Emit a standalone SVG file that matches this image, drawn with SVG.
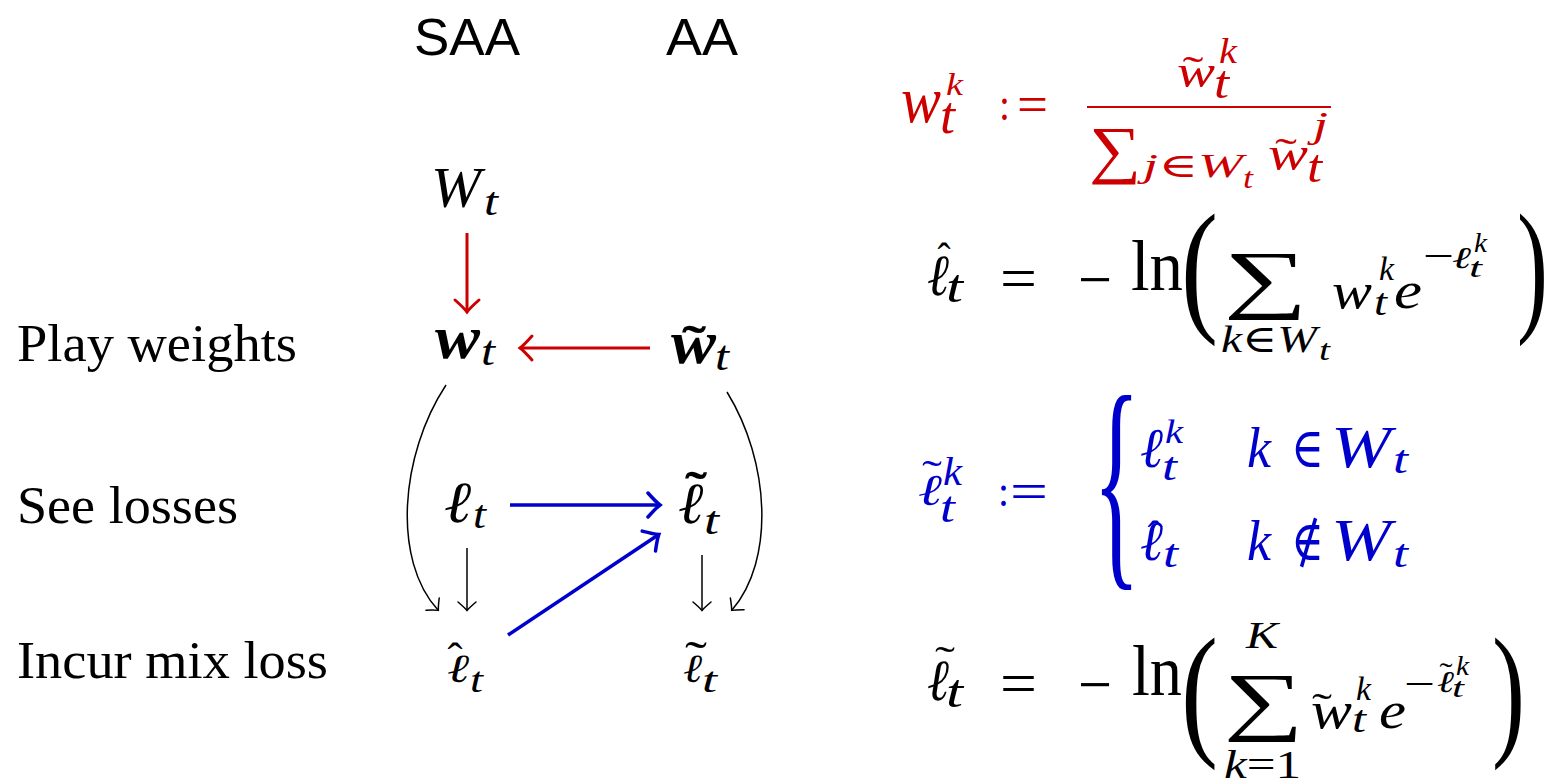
<svg xmlns="http://www.w3.org/2000/svg" width="1554" height="784" viewBox="0 0 1554 784">
<style>
.t{font-family:"Liberation Serif","DejaVu Serif",serif}
.i{font-style:italic}
.b{font-weight:bold}
.s{font-family:"Liberation Sans",Arial,sans-serif}
.r{fill:#CC0000}
.u{fill:#0000CC}
.k{fill:#000}
.m{text-anchor:middle}
</style>
<defs>
<marker id="hr" markerUnits="userSpaceOnUse" viewBox="-14 -14 18 28" markerWidth="18" markerHeight="28" refX="0" refY="0" orient="auto" overflow="visible">
<path d="M-11,-12 Q-3,-3 1,0 Q-3,3 -11,12" fill="none" stroke="#CC0000" stroke-width="3" stroke-linecap="round"/>
</marker>
<marker id="hb" markerUnits="userSpaceOnUse" viewBox="-14 -14 18 28" markerWidth="18" markerHeight="28" refX="0" refY="0" orient="auto" overflow="visible">
<path d="M-11,-12 Q-3,-3 1,0 Q-3,3 -11,12" fill="none" stroke="#0000CC" stroke-width="3.5" stroke-linecap="round"/>
</marker>
<marker id="hk" markerUnits="userSpaceOnUse" viewBox="-10 -10 12 20" markerWidth="12" markerHeight="20" refX="0" refY="0" orient="auto" overflow="visible">
<path d="M-8,-9 Q-2,-2 0.5,0 Q-2,2 -8,9" fill="none" stroke="#000" stroke-width="1.5" stroke-linecap="round"/>
</marker>
</defs>
<rect width="1554" height="784" fill="#fff"/>

<g id="header-saa"><text class="s" x="414" y="55" font-size="52" textLength="106" lengthAdjust="spacingAndGlyphs">SAA</text></g>
<g id="header-aa"><text class="s" x="666" y="55" font-size="52" textLength="72" lengthAdjust="spacingAndGlyphs">AA</text></g>

<g id="label-play"><text class="t" x="17" y="361" font-size="52" textLength="280" lengthAdjust="spacingAndGlyphs">Play weights</text></g>
<g id="label-see"><text class="t" x="17" y="523" font-size="52" textLength="221" lengthAdjust="spacingAndGlyphs">See losses</text></g>
<g id="label-incur"><text class="t" x="17" y="678" font-size="52" textLength="311" lengthAdjust="spacingAndGlyphs">Incur mix loss</text></g>

<g id="node-Wt">
<text class="t i" x="431" y="207" font-size="56" textLength="50" lengthAdjust="spacingAndGlyphs">W</text>
<text class="t i" x="484" y="215" font-size="40" textLength="14" lengthAdjust="spacingAndGlyphs">t</text>
</g>
<g id="node-wt">
<text class="t i b" x="435" y="358" font-size="62" textLength="45" lengthAdjust="spacingAndGlyphs">w</text>
<text class="t i" x="481" y="365" font-size="42" textLength="14" lengthAdjust="spacingAndGlyphs">t</text>
</g>
<g id="node-wtilde">
<text class="t i b" x="671" y="363" font-size="62" textLength="45" lengthAdjust="spacingAndGlyphs">w</text>
<text class="t b m" x="694" y="361" font-size="50" textLength="24" lengthAdjust="spacingAndGlyphs">˜</text>
<text class="t i" x="715" y="370" font-size="42" textLength="14" lengthAdjust="spacingAndGlyphs">t</text>
</g>
<g id="node-lt">
<text class="t i b" x="445" y="522" font-size="58" textLength="28" lengthAdjust="spacingAndGlyphs">ℓ</text>
<text class="t i" x="473" y="528" font-size="40" textLength="13" lengthAdjust="spacingAndGlyphs">t</text>
</g>
<g id="node-ltilde">
<text class="t i b" x="679" y="523" font-size="58" textLength="26" lengthAdjust="spacingAndGlyphs">ℓ</text>
<text class="t b m" x="696" y="507" font-size="50" textLength="22" lengthAdjust="spacingAndGlyphs">˜</text>
<text class="t i" x="704" y="534" font-size="40" textLength="15" lengthAdjust="spacingAndGlyphs">t</text>
</g>
<g id="node-lhat">
<text class="t i" x="447" y="682" font-size="40" textLength="22" lengthAdjust="spacingAndGlyphs">ℓ</text>
<text class="t m" x="455" y="673" font-size="45" textLength="15" lengthAdjust="spacingAndGlyphs">ˆ</text>
<text class="t i" x="470" y="692" font-size="36" textLength="13" lengthAdjust="spacingAndGlyphs">t</text>
</g>
<g id="node-ltilde2">
<text class="t i" x="683" y="682" font-size="40" textLength="19" lengthAdjust="spacingAndGlyphs">ℓ</text>
<text class="t m" x="696" y="676" font-size="50" textLength="22" lengthAdjust="spacingAndGlyphs">˜</text>
<text class="t i" x="702" y="692" font-size="36" textLength="15" lengthAdjust="spacingAndGlyphs">t</text>
</g>

<g id="connectors" fill="none">
<line x1="467" y1="233" x2="467" y2="311" stroke="#CC0000" stroke-width="3" marker-end="url(#hr)"/>
<line x1="650" y1="348" x2="521" y2="348" stroke="#CC0000" stroke-width="3" marker-end="url(#hr)"/>
<line x1="510" y1="505" x2="659" y2="505" stroke="#0000CC" stroke-width="3.5" marker-end="url(#hb)"/>
<line x1="508" y1="635" x2="658" y2="535" stroke="#0000CC" stroke-width="3.5" marker-end="url(#hb)"/>
<line x1="467" y1="548" x2="467" y2="610" stroke="#000" stroke-width="1.5" marker-end="url(#hk)"/>
<line x1="702" y1="555" x2="702" y2="610" stroke="#000" stroke-width="1.5" marker-end="url(#hk)"/>
<path d="M446,385 C400,455 392,560 438,610" stroke="#000" stroke-width="1.5" marker-end="url(#hk)"/>
<path d="M727,392 C770,462 775,560 732,610" stroke="#000" stroke-width="1.5" marker-end="url(#hk)"/>
</g>

<g id="formula-weights" class="r">
<text class="t i" x="901" y="122" font-size="66" textLength="40" lengthAdjust="spacingAndGlyphs">w</text>
<text class="t i" x="946" y="95" font-size="32" textLength="17" lengthAdjust="spacingAndGlyphs">k</text>
<text class="t i" x="940" y="133" font-size="52" textLength="15" lengthAdjust="spacingAndGlyphs">t</text>
<text class="t" x="999" y="120" font-size="46" textLength="11" lengthAdjust="spacingAndGlyphs">:</text>
<text class="t" x="1017" y="122" font-size="52" textLength="31" lengthAdjust="spacingAndGlyphs">=</text>
<line x1="1087" y1="107" x2="1331" y2="107" stroke="#CC0000" stroke-width="2.2"/>
<text class="t i" x="1177" y="87" font-size="46" textLength="38" lengthAdjust="spacingAndGlyphs">w</text>
<text class="t m" x="1193" y="84" font-size="40" textLength="21" lengthAdjust="spacingAndGlyphs">˜</text>
<text class="t i" x="1219" y="63" font-size="36" textLength="18" lengthAdjust="spacingAndGlyphs">k</text>
<text class="t i" x="1214" y="98" font-size="46" textLength="15" lengthAdjust="spacingAndGlyphs">t</text>
<text class="t" x="1089" y="171" font-size="64" textLength="52" lengthAdjust="spacingAndGlyphs">∑</text>
<text class="t i" x="1143" y="177" font-size="34" textLength="100" lengthAdjust="spacingAndGlyphs">j<tspan font-style="normal">∈</tspan>W</text>
<text class="t i" x="1243" y="188" font-size="30" textLength="10" lengthAdjust="spacingAndGlyphs">t</text>
<text class="t i" x="1268" y="170" font-size="48" textLength="40" lengthAdjust="spacingAndGlyphs">w</text>
<text class="t m" x="1286" y="166" font-size="40" textLength="22" lengthAdjust="spacingAndGlyphs">˜</text>
<text class="t i" x="1313" y="137" font-size="36" textLength="15" lengthAdjust="spacingAndGlyphs">j</text>
<text class="t i" x="1307" y="182" font-size="46" textLength="15" lengthAdjust="spacingAndGlyphs">t</text>
</g>

<g id="formula-mixloss" class="k">
<text class="t i" x="927" y="295" font-size="58" textLength="22" lengthAdjust="spacingAndGlyphs">ℓ</text>
<text class="t m" x="944" y="273" font-size="45" textLength="13" lengthAdjust="spacingAndGlyphs">ˆ</text>
<text class="t i" x="946" y="302" font-size="46" textLength="17" lengthAdjust="spacingAndGlyphs">t</text>
<text class="t" x="1000" y="298" font-size="60" textLength="37" lengthAdjust="spacingAndGlyphs">=</text>
<text class="t" x="1078" y="301" font-size="64" textLength="34" lengthAdjust="spacingAndGlyphs">−</text>
<text class="t" x="1131" y="290" font-size="72" textLength="52" lengthAdjust="spacingAndGlyphs">ln</text>
<text class="t" x="1181" y="315" font-size="147" textLength="37" lengthAdjust="spacingAndGlyphs">(</text>
<text class="t" x="1224" y="304" font-size="76" textLength="84" lengthAdjust="spacingAndGlyphs">∑</text>
<text class="t i" x="1221" y="352" font-size="38" textLength="96" lengthAdjust="spacingAndGlyphs">k<tspan font-style="normal">∈</tspan>W</text>
<text class="t i" x="1319" y="360" font-size="30" textLength="11" lengthAdjust="spacingAndGlyphs">t</text>
<text class="t i" x="1332" y="308" font-size="50" textLength="40" lengthAdjust="spacingAndGlyphs">w</text>
<text class="t i" x="1379" y="280" font-size="33" textLength="15" lengthAdjust="spacingAndGlyphs">k</text>
<text class="t i" x="1374" y="315" font-size="38" textLength="13" lengthAdjust="spacingAndGlyphs">t</text>
<text class="t i" x="1394" y="308" font-size="52" textLength="28" lengthAdjust="spacingAndGlyphs">e</text>
<text class="t" x="1423" y="269" font-size="40" textLength="31" lengthAdjust="spacingAndGlyphs">−</text>
<text class="t i" x="1452" y="268" font-size="30" textLength="19" lengthAdjust="spacingAndGlyphs">ℓ</text>
<text class="t i" x="1474" y="252" font-size="28" textLength="13" lengthAdjust="spacingAndGlyphs">k</text>
<text class="t i" x="1469" y="277" font-size="28" textLength="13" lengthAdjust="spacingAndGlyphs">t</text>
<text class="t" x="1517" y="315" font-size="147" textLength="31" lengthAdjust="spacingAndGlyphs">)</text>
</g>

<g id="formula-losses" class="u">
<text class="t i" x="918" y="505" font-size="44" textLength="24" lengthAdjust="spacingAndGlyphs">ℓ</text>
<text class="t m" x="932" y="488" font-size="40" textLength="20" lengthAdjust="spacingAndGlyphs">˜</text>
<text class="t i" x="943" y="485" font-size="40" textLength="19" lengthAdjust="spacingAndGlyphs">k</text>
<text class="t i" x="940" y="522" font-size="44" textLength="15" lengthAdjust="spacingAndGlyphs">t</text>
<text class="t" x="998" y="506" font-size="44" textLength="11" lengthAdjust="spacingAndGlyphs">:</text>
<text class="t" x="1010" y="509" font-size="52" textLength="38" lengthAdjust="spacingAndGlyphs">=</text>
<text class="t" x="1093" y="558" font-size="236" textLength="47" lengthAdjust="spacingAndGlyphs">{</text>
<text class="t i" x="1140" y="467" font-size="56" textLength="23" lengthAdjust="spacingAndGlyphs">ℓ</text>
<text class="t i" x="1165" y="443" font-size="34" textLength="18" lengthAdjust="spacingAndGlyphs">k</text>
<text class="t i" x="1162" y="480" font-size="40" textLength="15" lengthAdjust="spacingAndGlyphs">t</text>
<text class="t i" x="1247" y="467" font-size="56" textLength="24" lengthAdjust="spacingAndGlyphs">k</text>
<text class="t" x="1291" y="467" font-size="56" textLength="33" lengthAdjust="spacingAndGlyphs">∈</text>
<text class="t i" x="1331" y="467" font-size="60" textLength="60" lengthAdjust="spacingAndGlyphs">W</text>
<text class="t i" x="1393" y="473" font-size="40" textLength="15" lengthAdjust="spacingAndGlyphs">t</text>
<text class="t i" x="1140" y="560" font-size="56" textLength="23" lengthAdjust="spacingAndGlyphs">ℓ</text>
<text class="t m" x="1155" y="551" font-size="45" textLength="15" lengthAdjust="spacingAndGlyphs">ˆ</text>
<text class="t i" x="1163" y="567" font-size="40" textLength="15" lengthAdjust="spacingAndGlyphs">t</text>
<text class="t i" x="1247" y="560" font-size="56" textLength="24" lengthAdjust="spacingAndGlyphs">k</text>
<text class="t" x="1291" y="560" font-size="56" textLength="33" lengthAdjust="spacingAndGlyphs">∉</text>
<text class="t i" x="1331" y="560" font-size="60" textLength="60" lengthAdjust="spacingAndGlyphs">W</text>
<text class="t i" x="1393" y="567" font-size="40" textLength="15" lengthAdjust="spacingAndGlyphs">t</text>
</g>

<g id="formula-aaloss" class="k">
<text class="t i" x="927" y="700" font-size="58" textLength="22" lengthAdjust="spacingAndGlyphs">ℓ</text>
<text class="t m" x="945" y="674" font-size="40" textLength="20" lengthAdjust="spacingAndGlyphs">˜</text>
<text class="t i" x="946" y="707" font-size="46" textLength="17" lengthAdjust="spacingAndGlyphs">t</text>
<text class="t" x="1000" y="703" font-size="60" textLength="37" lengthAdjust="spacingAndGlyphs">=</text>
<text class="t" x="1078" y="706" font-size="64" textLength="34" lengthAdjust="spacingAndGlyphs">−</text>
<text class="t" x="1132" y="695" font-size="72" textLength="50" lengthAdjust="spacingAndGlyphs">ln</text>
<text class="t" x="1181" y="739" font-size="146" textLength="37" lengthAdjust="spacingAndGlyphs">(</text>
<text class="t i" x="1246" y="648" font-size="38" textLength="32" lengthAdjust="spacingAndGlyphs">K</text>
<text class="t" x="1224" y="726" font-size="76" textLength="80" lengthAdjust="spacingAndGlyphs">∑</text>
<text class="t i" x="1224" y="778" font-size="40" textLength="77" lengthAdjust="spacingAndGlyphs">k<tspan font-style="normal">=1</tspan></text>
<text class="t i" x="1311" y="728" font-size="52" textLength="41" lengthAdjust="spacingAndGlyphs">w</text>
<text class="t m" x="1322" y="721" font-size="40" textLength="20" lengthAdjust="spacingAndGlyphs">˜</text>
<text class="t i" x="1356" y="700" font-size="33" textLength="15" lengthAdjust="spacingAndGlyphs">k</text>
<text class="t i" x="1352" y="732" font-size="38" textLength="14" lengthAdjust="spacingAndGlyphs">t</text>
<text class="t i" x="1379" y="728" font-size="52" textLength="27" lengthAdjust="spacingAndGlyphs">e</text>
<text class="t" x="1404" y="697" font-size="40" textLength="31" lengthAdjust="spacingAndGlyphs">−</text>
<text class="t i" x="1437" y="692" font-size="30" textLength="17" lengthAdjust="spacingAndGlyphs">ℓ</text>
<text class="t m" x="1446" y="682" font-size="28" textLength="13" lengthAdjust="spacingAndGlyphs">˜</text>
<text class="t i" x="1456" y="675" font-size="28" textLength="13" lengthAdjust="spacingAndGlyphs">k</text>
<text class="t i" x="1452" y="697" font-size="28" textLength="12" lengthAdjust="spacingAndGlyphs">t</text>
<text class="t" x="1492" y="739" font-size="146" textLength="33" lengthAdjust="spacingAndGlyphs">)</text>
</g>
</svg>
